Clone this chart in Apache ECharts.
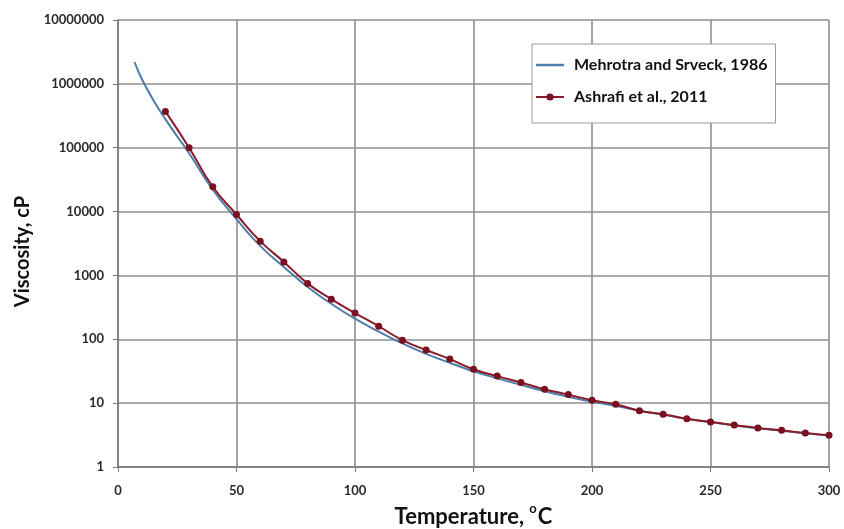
<!DOCTYPE html>
<html>
<head>
<meta charset="utf-8">
<script src="https://cdn.jsdelivr.net/npm/echarts@6/dist/echarts.min.js"></script>
<style>
  html, body { margin: 0; padding: 0; background: #ffffff; }
  #chart { width: 844px; height: 529px; }
</style>
</head>
<body>
<div id="chart"></div>
<script>
// Viscosity–temperature correlations (log scale)
const mehrotraTemps = [7, 10, 15, 20, 25, 30, 40, 50, 60, 70, 80, 90, 100, 110, 120, 130, 140, 150, 160, 170, 180, 190, 200, 210, 220, 230, 240, 250, 260, 270, 280, 290, 300];
const mehrotraVisc  = [2200000, 1200000, 550000, 280000, 150000, 82000, 22000, 7600, 2900, 1350, 660, 360, 210, 132, 86, 59, 43, 31.5, 24.5, 19.3, 15.4, 12.6, 10.5, 9.1, 7.6, 6.6, 5.7, 5.05, 4.5, 4.05, 3.7, 3.38, 3.1];

const ashrafiTemps = [20, 30, 40, 50, 60, 70, 80, 90, 100, 110, 120, 130, 140, 150, 160, 170, 180, 190, 200, 210, 220, 230, 240, 250, 260, 270, 280, 290, 300];
const ashrafiVisc  = [370000, 100000, 24500, 9000, 3440, 1630, 750, 425, 257, 160, 97, 68, 49, 34, 26.5, 21, 16.5, 13.6, 11.1, 9.6, 7.6, 6.7, 5.7, 5.06, 4.55, 4.08, 3.75, 3.4, 3.13];

const xTicks = [0, 50, 100, 150, 200, 250, 300];
const seriesNames = ['Mehrotra and Srveck, 1986', 'Ashrafi et al., 2011'];

const FONT = 'Lato';
const chart = echarts.init(document.getElementById('chart'), null, { renderer: 'canvas' });

const zip = (xs, ys) => xs.map((x, i) => [x, ys[i]]);

chart.setOption({
  backgroundColor: '#ffffff',
  animation: false,
  grid: { left: 118, right: 15, top: 20, bottom: 62, containLabel: false, outerBoundsMode: 'none' },
  legend: {
    orient: 'vertical',
    left: 532,
    top: 44,
    padding: [13, 8, 18, 3],
    itemGap: 16,
    itemWidth: 28,
    itemHeight: 9,
    borderColor: '#9a9a9a',
    borderWidth: 1,
    backgroundColor: '#ffffff',
    textStyle: { fontFamily: FONT, fontWeight: 'bold', fontSize: 16, color: '#111', padding: [0, 0, 0, 5] },
    data: [
      { name: seriesNames[0], icon: 'path://M0,0 L28,0 L28,2.5 L0,2.5 Z' },
      { name: seriesNames[1] }
    ]
  },
  xAxis: {
    type: 'value',
    min: xTicks[0],
    max: xTicks[xTicks.length - 1],
    interval: 50,
    name: '{a|Temperature, }{s|o}{a|C}',
    nameLocation: 'middle',
    nameGap: 34,
    nameTextStyle: {
      rich: {
        a: { fontFamily: FONT, fontWeight: 'bold', fontSize: 22, lineHeight: 26, color: '#111', verticalAlign: 'bottom' },
        s: { fontFamily: FONT, fontWeight: 'bold', fontSize: 13, lineHeight: 13, color: '#111', verticalAlign: 'top', padding: [0, 1, 0, 0] }
      }
    },
    axisLine: { lineStyle: { color: '#7a7a7a', width: 1.5 } },
    axisTick: { show: true, length: 5, lineStyle: { color: '#7a7a7a' } },
    axisLabel: { fontFamily: FONT, fontWeight: 'bold', fontSize: 13, color: '#2a2a2a', margin: 17 },
    splitLine: { show: true, lineStyle: { color: '#8f8f8f', width: 1.6 } }
  },
  yAxis: {
    type: 'log',
    logBase: 10,
    min: 1,
    max: 10000000,
    name: 'Viscosity, cP',
    nameLocation: 'middle',
    nameGap: 85,
    nameTextStyle: { fontFamily: FONT, fontWeight: 'bold', fontSize: 20, color: '#111', padding: [0, 16, 0, 0] },
    axisLine: { show: true, lineStyle: { color: '#7a7a7a', width: 1.5 } },
    axisTick: { show: true, length: 5, lineStyle: { color: '#7a7a7a' } },
    axisLabel: {
      fontFamily: FONT, fontWeight: 'bold', fontSize: 13, color: '#2a2a2a', margin: 14,
      formatter: v => String(Math.round(v))
    },
    splitLine: { show: true, lineStyle: { color: '#8f8f8f', width: 1.6 } },
    minorTick: { show: false }
  },
  series: [
    {
      name: seriesNames[0],
      type: 'line',
      smooth: true,
      symbol: 'none',
      data: zip(mehrotraTemps, mehrotraVisc),
      lineStyle: { color: '#4d7da8', width: 2 },
      itemStyle: { color: '#4d7da8' },
      z: 2
    },
    {
      name: seriesNames[1],
      type: 'line',
      smooth: true,
      symbol: 'circle',
      symbolSize: 7,
      data: zip(ashrafiTemps, ashrafiVisc),
      lineStyle: { color: '#8a1c2a', width: 2 },
      itemStyle: { color: '#7a1020' },
      z: 3
    }
  ]
});
</script>
</body>
</html>
